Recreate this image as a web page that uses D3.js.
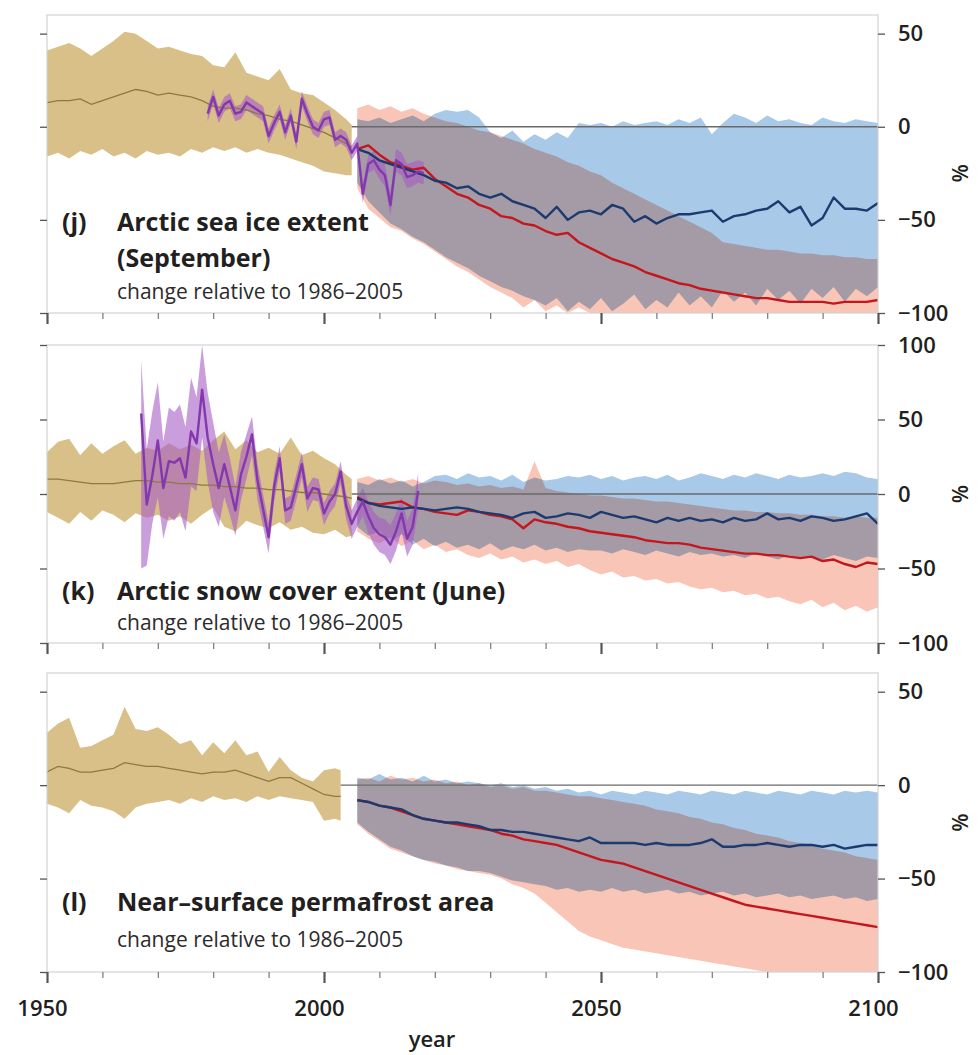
<!DOCTYPE html>
<html>
<head>
<meta charset="utf-8">
<script src="https://cdn.jsdelivr.net/npm/d3@7"></script>
<style>
body { margin: 0; background: #fff; }
svg { font-family: "Open Sans", "DejaVu Sans", sans-serif; }
</style>
</head>
<body>
<svg id="chart" width="980" height="1055"></svg>
<script>
// years (categories)
const histYearsJK = d3.range(1950, 2005, 2).concat([2005]);
const histYearsL = d3.range(1950, 2003, 2).concat([2003]);
const projYears = d3.range(2006, 2101, 2);
const obsYearsJ = d3.range(1979, 2019);
const obsYearsK = d3.range(1967, 2018);

const yearTicks = [1950, 1960, 1970, 1980, 1990, 2000, 2010, 2020, 2030, 2040, 2050, 2060, 2070, 2080, 2090, 2100];
const yearLabels = [1950, 2000, 2050, 2100];

// (j) Arctic sea ice extent (September), % change
const jHistMean = [13,14,14,15,12,14,16,18,20,19, 17,18,17,16,14,11,10,10,9,7, 6,4,3,1,-1,-3,-6,-9,-11];
const jHistHi = [41,43,45,42,38,42,46,51,50,46, 42,43,41,39,38,33,32,40,29,27, 25,31,20,18,17,13,9,4,1];
const jHistLo = [-16,-14,-17,-13,-15,-12,-16,-14,-17,-13, -15,-14,-16,-12,-14,-11,-13,-11,-14,-12, -14,-15,-17,-19,-21,-24,-25,-26,-26];

const jObsMean = [7,16,6,12,14,7,8,13,11,9, 7,-5,2,8,-3,6,-8,15,7,0, -2,4,5,-7,-5,-7,-14,-9,-36,-20, -18,-23,-26,-42,-18,-20,-27,-26,-24,-25];
const jObsHi = [11,20,10,16,18,11,12,17,15,13, 11,-1,6,12,1,10,-4,19,11,4, 2,8,9,-3,-1,-3,-10,-5,-31,-15, -13,-18,-20,-36,-12,-14,-20,-19,-18,-19];
const jObsLo = [3,12,2,8,10,3,4,9,7,5, 3,-9,-2,4,-7,2,-12,11,3,-4, -6,0,1,-11,-9,-11,-18,-13,-41,-25, -23,-28,-32,-48,-24,-26,-33,-32,-30,-31];

const jRcp26Mean = [-12,-14,-18,-20,-22,-24,-26,-29,-30,-33, -32,-36,-38,-36,-40,-42,-44,-49,-43,-50, -46,-45,-47,-42,-44,-51,-48,-52,-49,-47, -47,-46,-45,-51,-48,-47,-45,-44,-40,-46, -43,-53,-49,-38,-44,-44,-45,-41];
const jRcp26Hi = [4,3,5,2,4,6,3,7,9,8, 9,5,-3,-6,-2,-8,-4,-7,-3,-6, 2,1,2,0,3,1,2,3,1,4, 2,5,-4,2,7,5,2,6,3,4, 2,1,5,3,2,4,3,2];
const jRcp26Lo = [-30,-40,-46,-52,-55,-59,-62,-66,-70,-73, -76,-80,-83,-86,-88,-91,-93,-96,-92,-99, -94,-98,-92,-99,-95,-90,-98,-93,-97,-89, -96,-91,-97,-88,-94,-89,-96,-87,-93,-88, -95,-87,-92,-86,-94,-87,-91,-86];
const jRcp85Mean = [-12,-10,-15,-19,-21,-23,-22,-28,-32,-36, -38,-42,-44,-48,-49,-52,-53,-56,-58,-57, -62,-65,-68,-71,-73,-75,-78,-80,-82,-84, -85,-87,-88,-89,-90,-91,-92,-92,-93,-94, -94,-94,-94,-95,-94,-94,-94,-93];
const jRcp85Hi = [10,12,9,11,8,10,7,5,3,2, 0,-2,-3,-5,-7,-9,-12,-14,-16,-19, -21,-24,-26,-30,-33,-36,-39,-42,-45,-48, -51,-54,-57,-62,-63,-64,-65,-66,-66,-67, -68,-68,-69,-69,-70,-70,-71,-71];
const jRcp85Lo = [-33,-44,-49,-54,-56,-60,-63,-67,-71,-75, -78,-82,-86,-89,-92,-97,-93,-99,-96,-100, -97,-100,-100,-100,-100,-100,-100,-100,-100,-100, -100,-100,-100,-100,-100,-100,-100,-100,-100,-100, -100,-100,-100,-100,-100,-100,-100,-100];

// (k) Arctic snow cover extent (June), % change
const kHistMean = [10,10,9,8,7,7,7,8,9,9, 8,8,7,7,6,6,5,5,4,4, 3,3,2,1,1,0,-1,-2,-3];
const kHistHi = [28,35,37,26,34,27,32,36,27,31, 29,34,30,33,29,36,42,30,36,28, 31,27,38,26,29,24,20,13,10];
const kHistLo = [-12,-16,-20,-12,-18,-11,-14,-19,-13,-16, -14,-18,-15,-20,-14,-9,-22,-25,-18,-21, -23,-19,-24,-22,-26,-27,-24,-29,-28];

const kObsMean = [54,-7,12,36,4,22,21,24,11,42, 34,70,38,20,4,20,5,-11,13,25, 40,9,-10,-29,5,24,-11,-9,5,20, -3,4,3,-13,-5,0,15,-8,-20,-12, -5,-15,-23,-27,-29,-34,-25,-13,-30,-22, 2];
const kObsHi = [90,30,55,75,35,58,55,60,45,78, 65,100,68,48,28,40,24,5,28,40, 52,20,0,-19,14,32,-3,-1,13,28, 5,11,10,-6,2,7,22,0,-11,-3, 4,-5,-12,-16,-17,-21,-13,-2,-18,-10, 14];
const kObsLo = [-50,-48,-20,-2,-30,-15,-18,-12,-25,5, 2,38,8,-12,-22,-2,-14,-28,-4,10, 26,-4,-22,-40,-5,15,-20,-18,-4,11, -12,-4,-5,-21,-13,-8,7,-17,-30,-22, -15,-26,-34,-39,-41,-47,-38,-25,-42,-34, -10];

const kRcp26Mean = [-3,-6,-8,-9,-10,-9,-10,-11,-10,-9, -10,-12,-13,-14,-16,-13,-12,-16,-15,-13, -14,-16,-12,-14,-16,-15,-17,-19,-16,-18, -16,-18,-17,-19,-16,-18,-17,-13,-17,-16, -18,-15,-16,-18,-17,-15,-13,-20];
const kRcp26Hi = [8,6,10,7,9,5,8,12,13,10, 14,11,12,9,13,8,11,9,10,12, 11,13,10,12,9,11,12,10,13,9, 11,14,12,10,13,11,14,12,10,13, 11,12,14,12,15,14,11,10];
const kRcp26Lo = [-22,-28,-25,-32,-27,-34,-30,-35,-32,-36, -34,-37,-33,-38,-35,-37,-34,-38,-36,-39, -37,-38,-38,-40,-37,-39,-41,-38,-40,-42, -39,-41,-40,-42,-41,-43,-40,-42,-44,-41, -43,-42,-44,-41,-43,-45,-42,-43];
const kRcp85Mean = [-2,-6,-7,-6,-5,-9,-10,-12,-13,-14, -11,-12,-14,-15,-17,-23,-17,-19,-20,-22, -23,-25,-26,-27,-28,-29,-31,-32,-33,-33, -34,-36,-37,-38,-39,-40,-40,-41,-41,-42, -43,-42,-45,-44,-47,-49,-46,-47];
const kRcp85Hi = [10,12,9,11,8,10,7,9,8,6, 7,5,6,4,5,3,22,4,2,1, 0,-1,-1,-2,-3,-3,-4,-5,-5,-6, -7,-8,-9,-10,-11,-11,-12,-12,-13,-13, -14,-14,-15,-15,-16,-15,-16,-16];
const kRcp85Lo = [-25,-30,-33,-29,-35,-31,-37,-34,-39,-37, -41,-43,-40,-44,-42,-46,-44,-47,-45,-49, -47,-51,-54,-52,-56,-55,-58,-57,-60,-59, -62,-64,-63,-66,-65,-68,-67,-70,-69,-72, -74,-71,-76,-73,-78,-75,-79,-76];

// (l) Near-surface permafrost area, % change
const lHistMean = [7,10,9,7,7,8,9,12,11,10, 10,9,8,7,6,7,7,8,6,4, 2,4,4,1,-2,-5,-6,-6];
const lHistHi = [28,33,36,20,21,24,27,42,30,29, 31,27,22,24,16,23,17,24,16,18, 7,15,8,4,2,8,9,8];
const lHistLo = [-10,-12,-15,-8,-11,-12,-14,-18,-12,-10, -9,-8,-10,-7,-9,-6,-8,-7,-9,-6, -8,-6,-7,-8,-9,-19,-18,-19];

const lRcp26Mean = [-8,-9,-11,-12,-13,-16,-18,-19,-20,-20, -21,-22,-24,-24,-25,-25,-26,-27,-28,-29, -30,-28,-31,-31,-31,-31,-32,-31,-32,-32, -32,-31,-29,-33,-33,-32,-32,-31,-32,-33, -32,-32,-33,-32,-34,-33,-32,-32];
const lRcp26Hi = [4,3,6,3,4,2,5,2,3,1, 2,1,0,1,-1,0,-2,-1,-3,-2, -4,-3,-5,-3,-4,-5,-3,-4,-5,-3, -4,-5,-3,-4,-5,-3,-4,-5,-3,-4, -5,-3,-4,-5,-3,-4,-3,-4];
const lRcp26Lo = [-20,-25,-29,-33,-35,-38,-40,-41,-43,-44, -46,-46,-47,-49,-51,-52,-53,-54,-56,-55, -57,-56,-57,-55,-57,-56,-58,-57,-56,-58, -57,-59,-58,-57,-59,-58,-60,-59,-58,-60, -59,-61,-60,-59,-61,-60,-62,-61];
const lRcp85Mean = [-8,-9,-11,-12,-14,-16,-18,-19,-20,-21, -22,-23,-24,-26,-27,-29,-30,-31,-32,-34, -36,-38,-40,-41,-42,-44,-46,-48,-50,-52, -54,-56,-58,-60,-62,-64,-65,-66,-67,-68, -69,-70,-71,-72,-73,-74,-75,-76];
const lRcp85Hi = [3,4,2,5,3,4,2,3,1,2, 0,1,-1,0,-2,-1,-3,-3,-4,-5, -6,-6,-7,-8,-9,-10,-11,-13,-14,-15, -17,-18,-20,-21,-23,-24,-26,-27,-28,-30, -31,-32,-34,-35,-36,-38,-39,-40];
const lRcp85Lo = [-21,-26,-30,-34,-36,-38,-40,-42,-43,-45, -46,-47,-48,-50,-53,-55,-58,-63,-68,-73, -78,-81,-83,-85,-87,-88,-89,-90,-91,-92, -93,-94,-95,-96,-97,-98,-99,-100,-100,-100, -100,-100,-100,-100,-100,-100,-100,-100];

// 面板设置
const panels = [
  { id: 'j', top: 15, bottom: 313, domain: [-100, 60], ticks: [50, 0, -50, -100],
    label: '(j)', title: ['Arctic sea ice extent', '(September)'], titleY: 231, subY: 299, unitAt: -25, zeroFrom: 2005,
    hist: [histYearsJK, jHistMean, jHistLo, jHistHi], obs: [obsYearsJ, jObsMean, jObsLo, jObsHi],
    rcp26: [jRcp26Mean, jRcp26Lo, jRcp26Hi], rcp85: [jRcp85Mean, jRcp85Lo, jRcp85Hi] },
  { id: 'k', top: 345, bottom: 643, domain: [-100, 100], ticks: [100, 50, 0, -50, -100],
    label: '(k)', title: ['Arctic snow cover extent (June)'], titleY: 600, subY: 630, unitAt: 0, zeroFrom: 2005,
    hist: [histYearsJK, kHistMean, kHistLo, kHistHi], obs: [obsYearsK, kObsMean, kObsLo, kObsHi],
    rcp26: [kRcp26Mean, kRcp26Lo, kRcp26Hi], rcp85: [kRcp85Mean, kRcp85Lo, kRcp85Hi] },
  { id: 'l', top: 673, bottom: 972, domain: [-100, 60], ticks: [50, 0, -50, -100],
    label: '(l)', title: ['Near\u2013surface permafrost area'], titleY: 911, subY: 947, unitAt: -20, zeroFrom: 2003,
    hist: [histYearsL, lHistMean, lHistLo, lHistHi], obs: null,
    rcp26: [lRcp26Mean, lRcp26Lo, lRcp26Hi], rcp85: [lRcp85Mean, lRcp85Lo, lRcp85Hi] }
];

const svg = d3.select('#chart');
const left = 47, right = 878;
const x = d3.scaleLinear().domain([1950, 2100]).range([left, right]);
const minus = d => d < 0 ? '\u2212' + Math.abs(d) : String(d);

panels.forEach(p => {
  const y = d3.scaleLinear().domain(p.domain).range([p.bottom, p.top]);
  const g = svg.append('g');

  g.append('clipPath').attr('id', 'clip-' + p.id)
    .append('rect').attr('x', left).attr('y', p.top).attr('width', right - left).attr('height', p.bottom - p.top);

  const plot = g.append('g').attr('clip-path', `url(#clip-${p.id})`);

  const band = (years, lo, hi) => d3.area()
    .x((d, i) => x(years[i])).y0((d, i) => y(lo[i])).y1((d, i) => y(hi[i]))(years);
  const line = (years, v) => d3.line()
    .x((d, i) => x(years[i])).y((d, i) => y(v[i]))(years);

  // 预估区间 (RCP8.5 粉, RCP2.6 蓝, 重叠处相乘)
  plot.append('path').attr('d', band(projYears, p.rcp85[1], p.rcp85[2])).attr('fill', '#f8c5b7');
  plot.append('path').attr('d', band(projYears, p.rcp26[1], p.rcp26[2])).attr('fill', '#a9c9e8')
    .style('mix-blend-mode', 'multiply');

  // 历史模拟
  const [hy, hm, hlo, hhi] = p.hist;
  plot.append('path').attr('d', band(hy, hlo, hhi)).attr('fill', '#d8c088');

  // 观测
  if (p.obs) {
    const [oy, om, olo, ohi] = p.obs;
    plot.append('path').attr('d', band(oy, olo, ohi)).attr('fill', '#a65cc4').attr('fill-opacity', 0.6);
  }

  // 零线
  plot.append('line')
    .attr('x1', x(p.zeroFrom)).attr('x2', right).attr('y1', y(0)).attr('y2', y(0))
    .attr('stroke', '#6a6a6a').attr('stroke-width', 1.3);

  plot.append('path').attr('d', line(hy, hm)).attr('fill', 'none')
    .attr('stroke', '#8c7a3e').attr('stroke-width', 1.3);
  plot.append('path').attr('d', line(projYears, p.rcp85[0])).attr('fill', 'none')
    .attr('stroke', '#c4161c').attr('stroke-width', 2.4).attr('stroke-linejoin', 'round');
  plot.append('path').attr('d', line(projYears, p.rcp26[0])).attr('fill', 'none')
    .attr('stroke', '#1c3a6e').attr('stroke-width', 2.4).attr('stroke-linejoin', 'round');
  if (p.obs) {
    const [oy, om] = p.obs;
    plot.append('path').attr('d', line(oy, om)).attr('fill', 'none')
      .attr('stroke', '#8338ad').attr('stroke-width', 2.4).attr('stroke-linejoin', 'round');
  }

  // 边框
  g.append('rect').attr('x', left).attr('y', p.top).attr('width', right - left).attr('height', p.bottom - p.top)
    .attr('fill', 'none').attr('stroke', '#d2d2d2').attr('stroke-width', 1.2);

  // 左轴
  const la = g.append('g').attr('transform', `translate(${left},0)`)
    .call(d3.axisLeft(y).tickValues(p.ticks).tickSize(7).tickFormat(''));
  la.select('.domain').remove();
  la.selectAll('line').attr('stroke', '#555').attr('stroke-width', 1.3);

  // 右轴
  const ra = g.append('g').attr('transform', `translate(${right},0)`)
    .call(d3.axisRight(y).tickValues(p.ticks).tickSize(7).tickPadding(13).tickFormat(minus));
  ra.select('.domain').remove();
  ra.selectAll('line').attr('stroke', '#555').attr('stroke-width', 1.3);
  ra.selectAll('text').attr('font-size', 22).attr('font-weight', 600).attr('fill', '#231f20')
    .attr('font-family', '"Open Sans", sans-serif');

  // 底轴
  const ba = g.append('g').attr('transform', `translate(0,${p.bottom})`)
    .call(d3.axisBottom(x).tickValues(yearTicks).tickSize(6).tickPadding(22)
      .tickFormat(d => (p.id === 'l' && yearLabels.includes(d)) ? d : ''));
  ba.select('.domain').remove();
  ba.selectAll('line').attr('stroke', '#777').attr('stroke-width', 1.2);
  ba.selectAll('.tick').filter(d => yearLabels.includes(d)).select('line')
    .attr('y2', 11).attr('stroke', '#555').attr('stroke-width', 2.2);
  ba.selectAll('text').attr('font-size', 22).attr('font-weight', 600).attr('fill', '#231f20')
    .attr('dx', -5).attr('font-family', '"Open Sans", sans-serif');

  // % 单位
  g.append('text')
    .attr('transform', `translate(952,${y(p.unitAt)}) rotate(90)`)
    .attr('text-anchor', 'middle')
    .attr('font-size', 21).attr('font-weight', 600).attr('fill', '#231f20')
    .text('%');

  // 标题
  g.append('text').attr('x', 62).attr('y', p.titleY)
    .attr('font-size', 25).attr('font-weight', 700).attr('fill', '#231f20').text(p.label);
  p.title.forEach((t, i) => {
    g.append('text').attr('x', 117).attr('y', p.titleY + i * 36)
      .attr('font-size', 25).attr('font-weight', 700).attr('fill', '#231f20').text(t);
  });
  g.append('text').attr('x', 117).attr('y', p.subY)
    .attr('font-size', 21).attr('fill', '#2b2b2b').text('change relative to 1986\u20132005');
});

svg.append('text').attr('x', 432).attr('y', 1047).attr('text-anchor', 'middle')
  .attr('font-size', 22).attr('font-weight', 600).attr('fill', '#231f20').text('year');
</script>
</body>
</html>
